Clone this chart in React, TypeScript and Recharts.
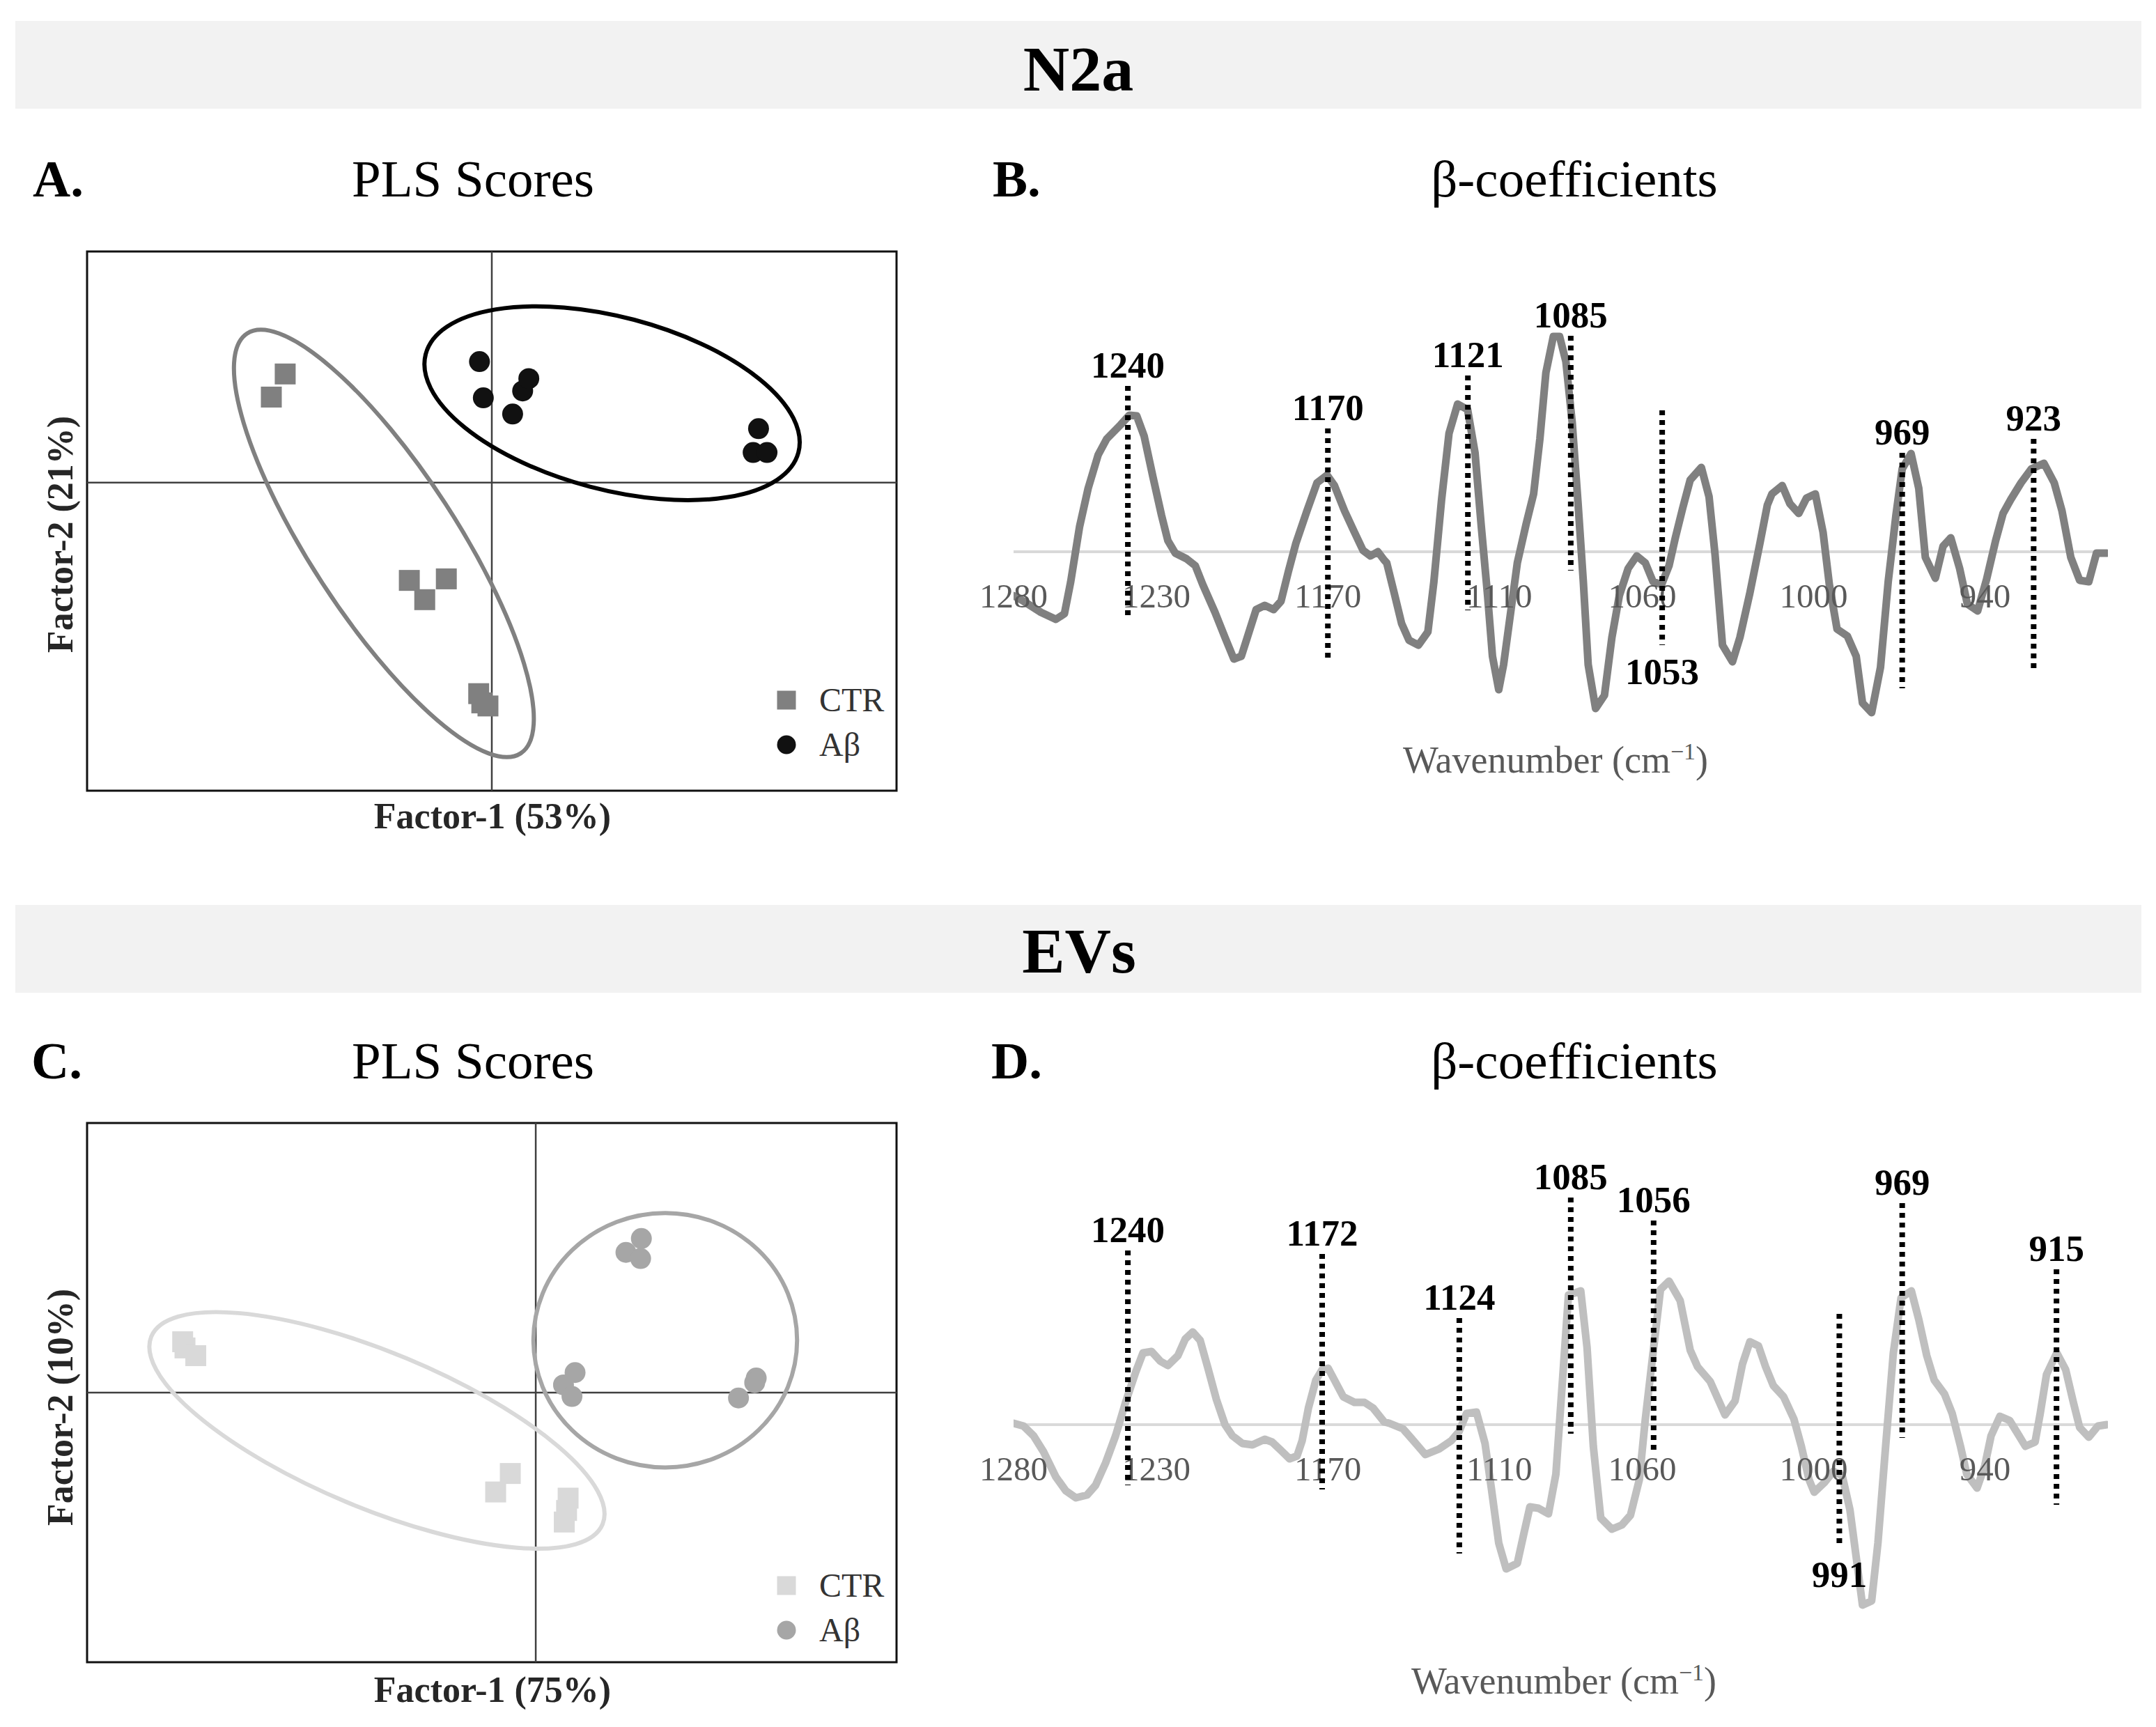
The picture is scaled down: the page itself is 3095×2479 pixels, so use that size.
import React from "react";
import {
  ScatterChart,
  Scatter,
  LineChart,
  Line,
  XAxis,
  YAxis,
  ReferenceLine,
  ReferenceArea,
  ReferenceDot,
  Legend,
} from "recharts";

document.body.style.margin = "0";

const FONT = '"Liberation Serif", "Times New Roman", serif';

// ---- PLS scores, N2a ----
const ctrAx = [-2.68, -2.86, -1.07, -0.59, -0.87, -0.17, -0.13, -0.05];
const ctrAy = [1.41, 1.11, -1.27, -1.25, -1.52, -2.74, -2.86, -2.9];
const abAx = [-0.16, -0.11, 0.27, 0.4, 0.48, 3.46, 3.39, 3.57];
const abAy = [1.57, 1.1, 0.89, 1.19, 1.35, 0.7, 0.39, 0.39];

// ---- PLS scores, EVs ----
const ctrCx = [-4.58, -4.55, -4.41, -0.33, -0.52, 0.42, 0.4, 0.37];
const ctrCy = [0.66, 0.58, 0.48, -1.05, -1.29, -1.37, -1.53, -1.68];
const abCx = [1.37, 1.17, 1.36, 0.51, 0.36, 0.47, 2.86, 2.84, 2.63];
const abCy = [2.0, 1.82, 1.74, 0.26, 0.1, -0.05, 0.19, 0.13, -0.07];

const groupOrder = ["CTR", "Aβ"];

// confidence ellipses: centre, semi-axes (data units), rotation (deg)
const ellipsesA = [
  { cx: -1.4, cy: -0.79, a: 3.25, b: 0.95, angle: 56.9, color: "#808080" },
  { cx: 1.56, cy: 1.03, a: 2.5, b: 1.12, angle: 14.8, color: "#000000" },
];
const ellipsesC = [
  { cx: -2.06, cy: -0.49, a: 3.17, b: 1.01, angle: 22.6, color: "#d9d9d9" },
  { cx: 1.68, cy: 0.68, a: 1.71, b: 1.65, angle: 0, color: "#a6a6a6" },
];

// ---- beta coefficients, N2a ----
const wnB = [
  1280.0, 1276.5, 1270.4, 1265.2, 1262.2, 1260.0, 1256.9, 1253.9, 1250.4, 1247.4,
  1242.6, 1239.5, 1236.9, 1234.3, 1231.2, 1228.2, 1226.0, 1223.4, 1219.5, 1216.4,
  1213.8, 1209.5, 1206.0, 1202.9, 1200.3, 1198.2, 1195.1, 1192.1, 1189.0, 1186.4,
  1183.8, 1181.2, 1177.3, 1173.8, 1170.3, 1167.7, 1164.2, 1160.7, 1157.7, 1155.1,
  1152.5, 1150.3, 1149.4, 1146.8, 1144.2, 1141.6, 1138.3, 1135.0, 1132.9, 1130.2,
  1127.6, 1124.6, 1121.1, 1118.5, 1116.3, 1114.1, 1112.4, 1110.2, 1108.5, 1105.9,
  1103.7, 1100.6, 1098.0, 1095.8, 1093.7, 1091.1, 1088.9, 1086.7, 1084.5, 1082.4,
  1080.6, 1078.9, 1076.3, 1073.2, 1070.6, 1068.0, 1064.9, 1061.9, 1058.9, 1056.2,
  1053.2, 1050.6, 1048.4, 1045.8, 1043.2, 1039.3, 1036.6, 1034.5, 1031.9, 1028.4,
  1025.8, 1022.3, 1018.8, 1016.2, 1014.6, 1011.0, 1008.3, 1005.2, 1002.5, 999.4,
  996.7, 994.5, 991.8, 988.2, 985.1, 982.9, 979.7, 976.6, 973.9, 971.2,
  969.0, 965.9, 963.2, 960.9, 957.4, 954.7, 952.0, 948.9, 946.2, 942.6,
  939.5, 936.3, 933.7, 931.0, 927.4, 923.8, 919.4, 915.8, 913.1, 910.0,
  906.9, 903.7, 901.0, 897.4,
];
const betaB = [
  -0.63, -0.71, -0.87, -0.97, -0.89, -0.43, 0.36, 0.91, 1.39, 1.62,
  1.82, 1.96, 1.95, 1.66, 1.07, 0.52, 0.16, -0.02, -0.1, -0.2,
  -0.47, -0.87, -1.23, -1.54, -1.5, -1.23, -0.83, -0.77, -0.83, -0.71,
  -0.28, 0.12, 0.59, 0.99, 1.1, 0.95, 0.59, 0.28, 0.02, -0.06,
  0.0, -0.12, -0.16, -0.59, -1.03, -1.27, -1.34, -1.15, -0.43, 0.75,
  1.7, 2.12, 2.04, 1.42, 0.36, -0.63, -1.5, -1.98, -1.62, -0.83,
  -0.16, 0.4, 0.83, 1.62, 2.57, 3.09, 3.09, 2.73, 1.86, 0.67,
  -0.43, -1.62, -2.25, -2.06, -1.23, -0.63, -0.24, -0.06, -0.16, -0.43,
  -0.47, -0.2, 0.2, 0.63, 1.03, 1.21, 0.79, -0.04, -1.34, -1.58,
  -1.23, -0.59, 0.12, 0.67, 0.83, 0.95, 0.69, 0.55, 0.77, 0.83,
  0.28, -0.47, -1.11, -1.21, -1.5, -2.17, -2.31, -1.66, -0.43, 0.52,
  1.19, 1.41, 0.91, -0.08, -0.38, 0.08, 0.2, -0.24, -0.75, -0.85,
  -0.4, 0.16, 0.55, 0.75, 0.99, 1.19, 1.27, 0.99, 0.59, -0.08,
  -0.41, -0.43, -0.02, -0.02,
];
const peaksB = [1240, 1170, 1121, 1085, 1053, 969, 923];
const peaksBTop = [2.38, 1.77, 2.53, 3.1, 2.03, 1.42, 1.62];
const peaksBBottom = [-0.98, -1.59, -0.84, -0.27, -1.34, -1.96, -1.74];
const peaksBBelow = [1053];

// ---- beta coefficients, EVs ----
const wnD = [
  1280.0, 1276.5, 1273.0, 1269.5, 1265.2, 1261.7, 1258.2, 1254.3, 1251.3, 1247.8,
  1244.3, 1240.8, 1237.3, 1234.7, 1231.7, 1228.6, 1226.0, 1222.5, 1219.9, 1217.3,
  1214.7, 1212.1, 1209.0, 1206.0, 1203.4, 1199.9, 1196.4, 1192.1, 1189.5, 1186.4,
  1183.4, 1180.8, 1179.0, 1176.8, 1174.2, 1172.0, 1169.9, 1167.7, 1164.6, 1160.7,
  1157.2, 1154.2, 1150.3, 1148.5, 1143.7, 1140.7, 1135.9, 1131.1, 1126.8, 1124.1,
  1121.5, 1118.0, 1115.0, 1112.8, 1110.2, 1107.6, 1103.7, 1101.5, 1099.3, 1096.3,
  1092.8, 1090.2, 1088.5, 1085.8, 1081.5, 1079.3, 1077.1, 1074.5, 1070.6, 1067.1,
  1064.1, 1061.0, 1058.9, 1056.2, 1053.6, 1050.6, 1046.7, 1043.2, 1040.6, 1036.2,
  1033.6, 1031.0, 1027.5, 1024.9, 1022.3, 1019.3, 1016.8, 1014.1, 1010.5, 1006.9,
  1004.3, 1001.6, 999.8, 996.2, 993.1, 990.0, 987.3, 985.1, 982.9, 979.7,
  977.5, 974.8, 972.1, 969.4, 965.8, 963.2, 960.4, 957.8, 954.2, 951.5,
  948.6, 946.4, 942.8, 940.1, 937.9, 934.8, 931.4, 928.1, 925.9, 922.5,
  920.7, 918.5, 914.9, 911.8, 909.1, 906.9, 903.7, 900.5, 897.4,
];
const betaD = [
  0.02, -0.02, -0.16, -0.39, -0.75, -0.95, -1.05, -1.01, -0.87, -0.55,
  -0.16, 0.32, 0.75, 1.03, 1.05, 0.91, 0.85, 0.99, 1.23, 1.33,
  1.21, 0.83, 0.36, 0.0, -0.16, -0.27, -0.29, -0.21, -0.25, -0.37,
  -0.49, -0.45, -0.23, 0.24, 0.64, 0.79, 0.81, 0.64, 0.4, 0.32,
  0.32, 0.24, 0.04, 0.02, -0.06, -0.2, -0.43, -0.35, -0.23, -0.1,
  0.16, 0.18, -0.27, -0.91, -1.7, -2.07, -1.99, -1.58, -1.18, -1.2,
  -1.28, -0.71, 0.28, 1.86, 1.92, 1.11, -0.31, -1.34, -1.5, -1.44,
  -1.3, -0.79, 0.08, 1.03, 1.94, 2.06, 1.78, 1.07, 0.83, 0.62,
  0.38, 0.14, 0.34, 0.87, 1.19, 1.13, 0.83, 0.56, 0.4, 0.08,
  -0.31, -0.79, -0.97, -0.83, -0.67, -0.73, -1.22, -1.9, -2.59, -2.53,
  -1.7, -0.31, 1.03, 1.82, 1.92, 1.51, 0.99, 0.64, 0.44, 0.16,
  -0.31, -0.71, -0.91, -0.59, -0.16, 0.12, 0.06, -0.16, -0.31, -0.25,
  0.16, 0.72, 1.03, 0.79, 0.32, -0.04, -0.18, -0.02, 0.0,
];
const peaksD = [1240, 1172, 1124, 1085, 1056, 991, 969, 915];
const peaksDTop = [2.5, 2.45, 1.53, 3.26, 2.93, 1.59, 3.18, 2.23];
const peaksDBottom = [-0.87, -0.93, -1.85, -0.13, -0.41, -1.77, -0.19, -1.15];
const peaksDBelow = [991];

const wnTicks = [1280, 1230, 1170, 1110, 1060, 1000, 940];

// ---- layout ----
const SCORE_W = 1300;
const SCORE_H = 900;
const PLOT_W = 1162;
const PX = PLOT_W / 10.5; // px per score unit (same on both axes)

const BETA_W = 1695;
const BETA_H = 800;
const BETA_DOMAIN: [number, number] = [-3, 4];
const BETA_PLOT_H = 700;

const zip = (xs: number[], ys: number[]) => xs.map((x, i) => ({ x, y: ys[i] }));

const squareShape = (color: string) => (p: any) => (
  <rect x={p.cx - 15} y={p.cy - 15} width={30} height={30} fill={color} />
);
const circleShape = (color: string) => (p: any) => (
  <circle cx={p.cx} cy={p.cy} r={15} fill={color} />
);

const ellipseShape = (e: any) => (p: any) => (
  <ellipse
    cx={p.cx}
    cy={p.cy}
    rx={e.a * PX}
    ry={e.b * PX}
    transform={`rotate(${e.angle} ${p.cx} ${p.cy})`}
    fill="none"
    stroke={e.color}
    strokeWidth={6}
  />
);

const renderLegend = (props: any) => {
  const items = [...(props.payload || [])].sort(
    (a: any, b: any) => groupOrder.indexOf(a.value) - groupOrder.indexOf(b.value)
  );
  return (
    <div style={{ fontFamily: FONT, fontSize: 48, color: "#333" }}>
      {items.map((entry: any) => (
        <div key={entry.value} style={{ display: "flex", alignItems: "center", height: 64 }}>
          <svg width={30} height={30}>
            {entry.type === "square" ? (
              <rect x={1.5} y={1.5} width={27} height={27} fill={entry.color} />
            ) : (
              <circle cx={15} cy={15} r={13.5} fill={entry.color} />
            )}
          </svg>
          <span style={{ marginLeft: 32, lineHeight: 1 }}>{entry.value}</span>
        </div>
      ))}
    </div>
  );
};

function ScoresPanel({ top, marginTop, xDomain, yDomain, ctr, ab, ellipses, ctrColor, abColor, legendTop }: any) {
  return (
    <div style={{ position: "absolute", left: 0, top }}>
      <ScatterChart
        width={SCORE_W}
        height={SCORE_H}
        margin={{ top: marginTop, right: SCORE_W - 125 - PLOT_W, bottom: SCORE_H - marginTop - 774, left: 125 }}
      >
        <XAxis type="number" dataKey="x" domain={xDomain} hide allowDataOverflow />
        <YAxis type="number" dataKey="y" domain={yDomain} hide allowDataOverflow />
        <ReferenceArea
          x1={xDomain[0]}
          x2={xDomain[1]}
          y1={yDomain[0]}
          y2={yDomain[1]}
          fill="none"
          fillOpacity={0}
          stroke="#111"
          strokeWidth={3}
          ifOverflow="visible"
          zIndex={-50}
        />
        <ReferenceLine x={0} stroke="#404040" strokeWidth={2.5} zIndex={-20} />
        <ReferenceLine y={0} stroke="#404040" strokeWidth={2.5} zIndex={-20} />
        {ellipses.map((e: any, i: number) => (
          <ReferenceDot key={i} x={e.cx} y={e.cy} r={1} shape={ellipseShape(e)} ifOverflow="visible" zIndex={500} />
        ))}
        <Scatter name="CTR" data={ctr} legendType="square" fill={ctrColor} shape={squareShape(ctrColor)} isAnimationActive={false} />
        <Scatter name="Aβ" data={ab} legendType="circle" fill={abColor} shape={circleShape(abColor)} isAnimationActive={false} />
        <Legend
          layout="vertical"
          align="center"
          verticalAlign="middle"
          content={renderLegend}
          wrapperStyle={{ left: 1114, top: legendTop, width: "auto", height: "auto" }}
        />
      </ScatterChart>
    </div>
  );
}

const peakShape = (label: number, below: boolean) => (p: any) => {
  const x = p.x1;
  const yTop = Math.min(p.y1, p.y2);
  const yBot = Math.max(p.y1, p.y2);
  return (
    <g>
      <line x1={x} y1={yTop} x2={x} y2={yBot} stroke="#000" strokeWidth={8} strokeDasharray="7 7" />
      <text
        x={x}
        y={below ? yBot + 56 : yTop - 12}
        textAnchor="middle"
        fontSize={53}
        fontWeight="bold"
        fontFamily={FONT}
        fill="#000"
      >
        {label}
      </text>
    </g>
  );
};

function BetaPanel({ top, marginTop, wn, beta, color, peaks, peaksTop, peaksBottom, below }: any) {
  const data = wn.map((w: number, i: number) => ({ wn: w, beta: beta[i] }));
  const zeroY = marginTop + BETA_DOMAIN[1] * 100;
  const Tick = (p: any) => (
    <text x={p.x} y={zeroY + 80} textAnchor="middle" fontSize={49} fill="#595959" fontFamily={FONT}>
      {p.payload.value}
    </text>
  );
  return (
    <div style={{ position: "absolute", left: 1400, top }}>
      <LineChart
        width={BETA_W}
        height={BETA_H}
        data={data}
        margin={{ top: marginTop, right: 69, left: 55, bottom: BETA_H - marginTop - BETA_PLOT_H - 1 }}
      >
        <XAxis
          type="number"
          dataKey="wn"
          domain={[897, 1280]}
          reversed
          allowDataOverflow
          ticks={wnTicks}
          interval={0}
          axisLine={false}
          tickLine={false}
          height={1}
          tick={<Tick />}
        />
        <YAxis type="number" domain={BETA_DOMAIN} hide allowDataOverflow />
        <ReferenceLine y={0} stroke="#d9d9d9" strokeWidth={4} zIndex={-10} />
        <Line
          type="linear"
          dataKey="beta"
          stroke={color}
          strokeWidth={11}
          strokeLinejoin="round"
          strokeLinecap="round"
          dot={false}
          isAnimationActive={false}
        />
        {peaks.map((pk: number, i: number) => (
          <ReferenceLine
            key={pk}
            segment={[
              { x: pk, y: peaksTop[i] },
              { x: pk, y: peaksBottom[i] },
            ]}
            ifOverflow="visible"
            zIndex={2100}
            shape={peakShape(pk, below.includes(pk))}
          />
        ))}
      </LineChart>
    </div>
  );
}

export default function App() {
  return (
    <div style={{ position: "relative", width: 3095, height: 2479, background: "#fff", overflow: "hidden" }}>
      <svg width={3095} height={2479} style={{ position: "absolute", left: 0, top: 0 }} fontFamily={FONT}>
        <rect x={22} y={30} width={3052} height={126} fill="#f2f2f2" />
        <text x={1548} y={130} textAnchor="middle" fontSize={92} fontWeight="bold">N2a</text>
        <rect x={22} y={1299} width={3052} height={126} fill="#f2f2f2" />
        <text x={1549} y={1396} textAnchor="middle" fontSize={92} fontWeight="bold">EVs</text>

        <text x={47} y={282} fontSize={75} fontWeight="bold">A.</text>
        <text x={679} y={282} fontSize={75} textAnchor="middle">PLS Scores</text>
        <text x={1425} y={282} fontSize={75} fontWeight="bold">B.</text>
        <text x={2260} y={282} fontSize={75} textAnchor="middle">β-coefficients</text>

        <text x={45} y={1548} fontSize={75} fontWeight="bold">C.</text>
        <text x={679} y={1548} fontSize={75} textAnchor="middle">PLS Scores</text>
        <text x={1423} y={1548} fontSize={75} fontWeight="bold">D.</text>
        <text x={2260} y={1548} fontSize={75} textAnchor="middle">β-coefficients</text>

        <text x={707} y={1189} fontSize={52} fontWeight="bold" textAnchor="middle" fill="#262626">Factor-1 (53%)</text>
        <text transform="translate(104 767) rotate(-90)" fontSize={52} fontWeight="bold" textAnchor="middle" fill="#262626">Factor-2 (21%)</text>
        <text x={707} y={2443} fontSize={52} fontWeight="bold" textAnchor="middle" fill="#262626">Factor-1 (75%)</text>
        <text transform="translate(104 2020) rotate(-90)" fontSize={52} fontWeight="bold" textAnchor="middle" fill="#262626">Factor-2 (10%)</text>

        <text x={2233} y={1109} fontSize={54} textAnchor="middle" fill="#595959">
          Wavenumber (cm<tspan dy={-19} fontSize={34}>−1</tspan><tspan dy={19}>)</tspan>
        </text>
        <text x={2245} y={2431} fontSize={54} textAnchor="middle" fill="#595959">
          Wavenumber (cm<tspan dy={-19} fontSize={34}>−1</tspan><tspan dy={19}>)</tspan>
        </text>
      </svg>

      <ScoresPanel
        top={300}
        marginTop={61}
        xDomain={[-5.25, 5.25]}
        yDomain={[-4, 3]}
        ctr={zip(ctrAx, ctrAy)}
        ab={zip(abAx, abAy)}
        ellipses={ellipsesA}
        ctrColor="#808080"
        abColor="#111111"
        legendTop={673}
      />
      <ScoresPanel
        top={1560}
        marginTop={52}
        xDomain={[-5.82, 4.68]}
        yDomain={[-3.5, 3.5]}
        ctr={zip(ctrCx, ctrCy)}
        ab={zip(abCx, abCy)}
        ellipses={ellipsesC}
        ctrColor="#d9d9d9"
        abColor="#a6a6a6"
        legendTop={684}
      />

      <BetaPanel
        top={350}
        marginTop={42}
        wn={wnB}
        beta={betaB}
        color="#808080"
        peaks={peaksB}
        peaksTop={peaksBTop}
        peaksBottom={peaksBBottom}
        below={peaksBBelow}
      />
      <BetaPanel
        top={1620}
        marginTop={25}
        wn={wnD}
        beta={betaD}
        color="#bfbfbf"
        peaks={peaksD}
        peaksTop={peaksDTop}
        peaksBottom={peaksDBottom}
        below={peaksDBelow}
      />
    </div>
  );
}
